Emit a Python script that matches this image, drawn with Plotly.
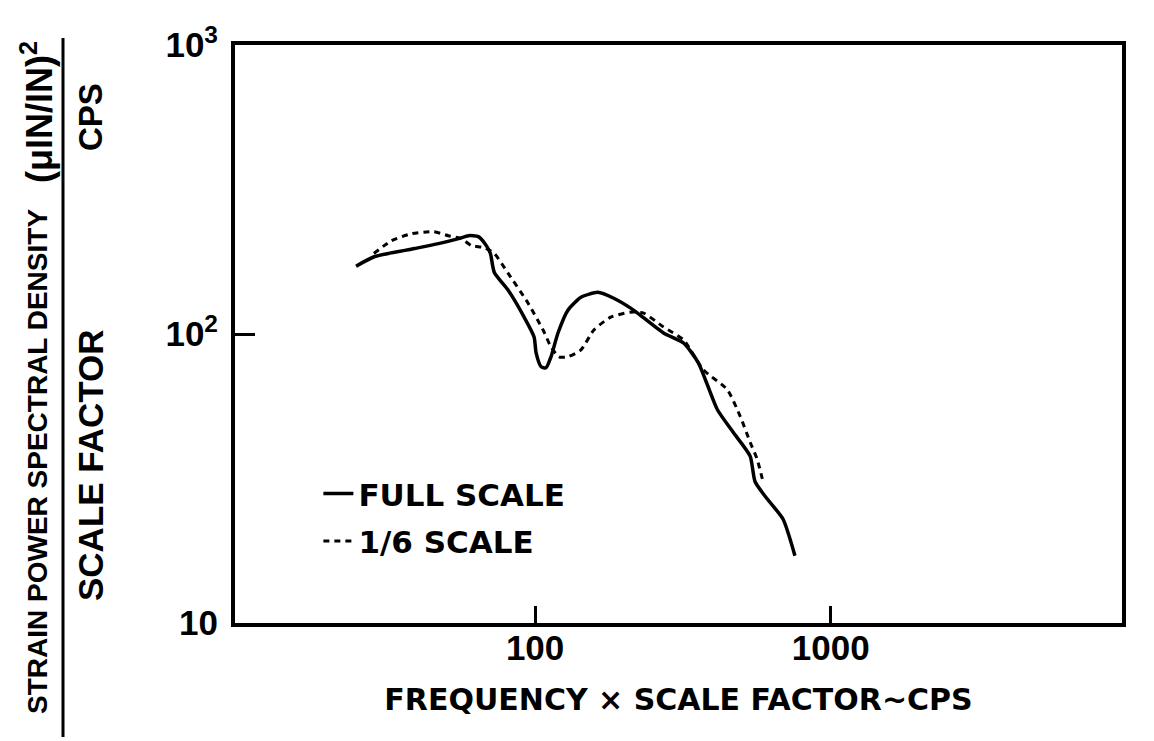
import plotly.graph_objects as go

# Data (log-log axes)
full_freq = [24.8, 28.7, 39.1, 47.1, 55.1, 59.5, 64.3, 68.4, 70.6, 72.8, 81.1, 91.8,
             99.2, 100.8, 104.8, 108.9, 113.2, 119.5, 129.1, 142.9, 163.0, 184.5,
             210.5, 222.2, 271.9, 317.6, 356.6, 413.3, 467.8, 533.7, 554.8, 609.0,
             689.2, 756.4]
full_psd = [171.7, 185.4, 197.5, 205.4, 213.8, 218.9, 217.2, 202.2, 189.9, 163.3,
            141.7, 114.4, 97.7, 86.0, 77.0, 76.4, 83.4, 100.8, 120.9, 134.0, 139.4,
            133.0, 122.9, 118.1, 100.8, 93.1, 79.5, 54.8, 45.7, 37.8, 30.8, 26.9,
            22.9, 17.1]

sixth_freq = [28.5, 32.7, 38.2, 45.4, 50.9, 56.3, 60.9, 67.3, 72.8, 81.1, 94.7,
              106.4, 113.2, 120.4, 129.1, 142.9, 158.0, 180.3, 210.5, 232.8, 271.9,
              317.6, 370.7, 446.5, 494.0, 533.7, 563.5, 590.2]
sixth_psd = [189.9, 210.4, 222.4, 225.9, 218.9, 213.8, 202.2, 199.1, 189.9, 162.0,
             127.8, 103.2, 90.2, 83.4, 83.4, 88.1, 103.2, 114.4, 119.0, 118.1, 105.7,
             95.4, 75.2, 64.2, 51.9, 42.2, 36.9, 30.8]

series_names = ["FULL SCALE", "1/6 SCALE"]

x_tickvals = [100, 1000]
x_ticktext = ["100", "1000"]
y_tickvals = [10, 100, 1000]
y_ticktext = ["10", "10<sup>2</sup>", "10<sup>3</sup>"]

BOLD = "Liberation Sans"
WIDE = "DejaVu Sans"

ML, MT, W, H = 227, 37, 887, 578

fig = go.Figure()
fig.add_trace(go.Scatter(x=full_freq, y=full_psd, mode="lines", name=series_names[0],
                         legendgroup="a",
                         line=dict(color="black", width=3.5, shape="spline", smoothing=0.6)))
fig.add_trace(go.Scatter(x=sixth_freq, y=sixth_psd, mode="lines", name=series_names[1],
                         legendgroup="b",
                         line=dict(color="black", width=3, dash="6px,5px", shape="spline",
                                   smoothing=0.6)))

fig.update_layout(
    width=1154, height=741,
    margin=dict(l=ML, r=1154 - ML - W, t=MT, b=741 - MT - H),
    plot_bgcolor="white", paper_bgcolor="white",
    showlegend=True,
    legend=dict(x=0.094, y=0.27, xanchor="left", yanchor="top",
                bgcolor="rgba(0,0,0,0)", traceorder="grouped", tracegroupgap=4,
                font=dict(family=WIDE, size=31, color="black", weight="bold")),
    xaxis=dict(type="log", range=[0.985, 3.985], tickvals=x_tickvals, ticktext=x_ticktext,
               ticks="inside", ticklen=17, tickwidth=3, tickcolor="black",
               showline=True, linewidth=4, linecolor="black", mirror=True,
               showgrid=False, zeroline=False, ticklabelstandoff=-9,
               tickfont=dict(family=BOLD, size=35, color="black", weight="bold"),
               title=dict(text="FREQUENCY × SCALE FACTOR~CPS", standoff=24,
                          font=dict(family=WIDE, size=30, color="black", weight="bold"))),
    yaxis=dict(type="log", range=[1, 3], tickvals=y_tickvals, ticktext=y_ticktext,
               ticks="inside", ticklen=20, tickwidth=3, tickcolor="black",
               showline=True, linewidth=4, linecolor="black", mirror=True,
               showgrid=False, zeroline=False, ticklabelstandoff=6,
               tickfont=dict(family=BOLD, size=35, color="black", weight="bold")),
)

# Fraction-style y-axis title (positions in page pixels -> paper coords)
def px_x(p):
    return (p - 8 - ML) / W

def px_y(p):
    return 1 - (p - 8 - MT) / H

def label(text, x, y, size):
    fig.add_annotation(text="<b>" + text + "</b>", textangle=-90, xref="paper", yref="paper",
                       x=px_x(x), y=px_y(y), xanchor="center", yanchor="middle",
                       showarrow=False,
                       font=dict(family=BOLD, size=size, color="black"))

label("STRAIN POWER SPECTRAL DENSITY", 37, 462, 28)
label("(μIN/IN)<sup>2</sup>", 37, 112, 36)
label("CPS", 90, 117, 33)
label("SCALE FACTOR", 90, 465, 35)

fig.add_shape(type="line", xref="paper", yref="paper",
              x0=px_x(63), x1=px_x(63), y0=px_y(737), y1=px_y(38),
              line=dict(color="black", width=3))

fig.write_html("out.html")
